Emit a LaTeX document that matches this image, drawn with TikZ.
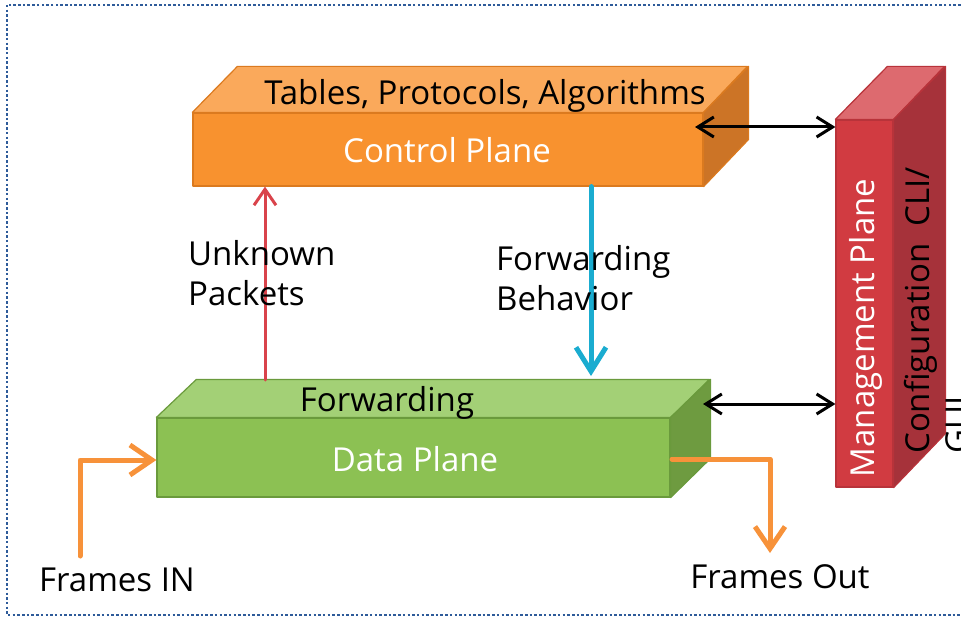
\documentclass[tikz,border=0pt]{standalone}
\usepackage{fontspec}
\setmainfont{Open Sans}
\usetikzlibrary{arrows.meta}
\definecolor{cpfront}{HTML}{F8922F}
\definecolor{cptop}{HTML}{FAA95B}
\definecolor{cpside}{HTML}{CC7426}
\definecolor{cpedge}{HTML}{DB7A1F}
\definecolor{dpfront}{HTML}{8CC153}
\definecolor{dptop}{HTML}{A3D076}
\definecolor{dpside}{HTML}{6E9B40}
\definecolor{dpedge}{HTML}{6A9A3C}
\definecolor{mpfront}{HTML}{D13B41}
\definecolor{mptop}{HTML}{DD6A6F}
\definecolor{mpside}{HTML}{A6323A}
\definecolor{mpedge}{HTML}{B8333A}
\definecolor{redarrow}{HTML}{D9434B}
\definecolor{cyanarrow}{HTML}{1AACD0}
\definecolor{orangearrow}{HTML}{F7923A}
\definecolor{framecol}{HTML}{2E5B9A}
\tikzset{
  txt/.style={font=\fontsize{33}{40}\selectfont, inner sep=0pt},
  face/.style={line width=1.2pt, line join=round},
  conn/.style={line cap=round, line join=round},
}
\begin{document}
\begin{tikzpicture}[x=1pt,y=-1pt]
\useasboundingbox (0,0) rectangle (961,620);
\clip (0,0) rectangle (961,620);
% frame
\draw[framecol, line width=2.5pt, dash pattern=on 2.5pt off 2.2pt] (7,5) rectangle (990,615);

% control plane
\node[rectangle, fill=cpfront, draw=cpedge, face, minimum width=510pt, minimum height=73pt, inner sep=0pt] (cp) at (448,149.5) {};
\draw[face, fill=cptop, draw=cpedge] (cp.north west) -- ++(45,-46) -- ++(510,0) -- (cp.north east) -- cycle;
\draw[face, fill=cpside, draw=cpedge] (cp.north east) -- ++(45,-46) -- ++(0,73) -- (cp.south east) -- cycle;
\node[txt, text=white] (cpl) at (447,150) {Control Plane};
\node[txt] (cpt) at (485,96) {Tables, Protocols, Algorithms};

% data plane
\node[rectangle, fill=dpfront, draw=dpedge, face, minimum width=513pt, minimum height=79pt, inner sep=0pt] (dp) at (413.5,457.5) {};
\draw[face, fill=dptop, draw=dpedge] (dp.north west) -- ++(40,-38) -- ++(513,0) -- (dp.north east) -- cycle;
\draw[face, fill=dpside, draw=dpedge] (dp.north east) -- ++(40,-38) -- ++(0,79) -- (dp.south east) -- cycle;
\node[txt, text=white] (dpl) at (415,459) {Data Plane};
\node[txt] (dpt) at (387,403) {Forwarding};

% management plane
\node[rectangle, fill=mpfront, draw=mpedge, face, minimum width=57pt, minimum height=367pt, inner sep=0pt] (mp) at (864.5,303.5) {};
\draw[face, fill=mptop, draw=mpedge] (mp.north west) -- ++(52,-53) -- ++(57,0) -- (mp.north east) -- cycle;
\draw[face, fill=mpside, draw=mpedge] (mp.north east) -- ++(52,-53) -- ++(0,367) -- (mp.south east) -- cycle;
\node[txt, text=white, rotate=90] (mpl) at (866,328) {Management Plane};
\node[txt, rotate=90, align=left, anchor=north west] (cfg) at (904,454) {Configuration\ \ CLI/\\GUI};

% unknown packets
\coordinate (uk) at (265,380);
\draw[conn, redarrow, line width=3pt, -{Straight Barb[length=16pt,width=22pt]}] (uk) -- (uk |- cp.south);
\node[txt, align=left, anchor=west] (ukl) at (188,273) {Unknown\\Packets};

% forwarding behavior
\coordinate (fb) at (591,376);
\draw[conn, cyanarrow, line width=5pt, -{Straight Barb[length=24pt,width=30pt]}] (fb |- cp.south) -- (fb);
\node[txt, align=left, anchor=west] (fbl) at (496,278) {Forwarding\\Behavior};

% management links
\coordinate (c1) at (695,127);
\coordinate (c2) at (703,404);
\draw[conn, black, line width=3pt, {Straight Barb[length=16pt,width=20pt]}-{Straight Barb[length=16pt,width=20pt]}] (c1) -- (c1 -| mp.west);
\draw[conn, black, line width=3pt, {Straight Barb[length=16pt,width=20pt]}-{Straight Barb[length=16pt,width=20pt]}] (c2) -- (c2 -| mp.west);

% frames in / out
\node[txt] (fin) at (117,580) {Frames IN};
\node[txt] (fout) at (780,577) {Frames Out};
\coordinate (inb) at (80,556);
\draw[conn, orangearrow, line width=5pt, -{Straight Barb[length=22pt,width=30pt]}] (inb) |- (dp.west |- 0,460);
\coordinate (outa) at (672,459);
\coordinate (outb) at (770,553);
\draw[conn, orangearrow, line width=5pt, -{Straight Barb[length=22pt,width=30pt]}] (outa) -| (outb);
\end{tikzpicture}
\end{document}
